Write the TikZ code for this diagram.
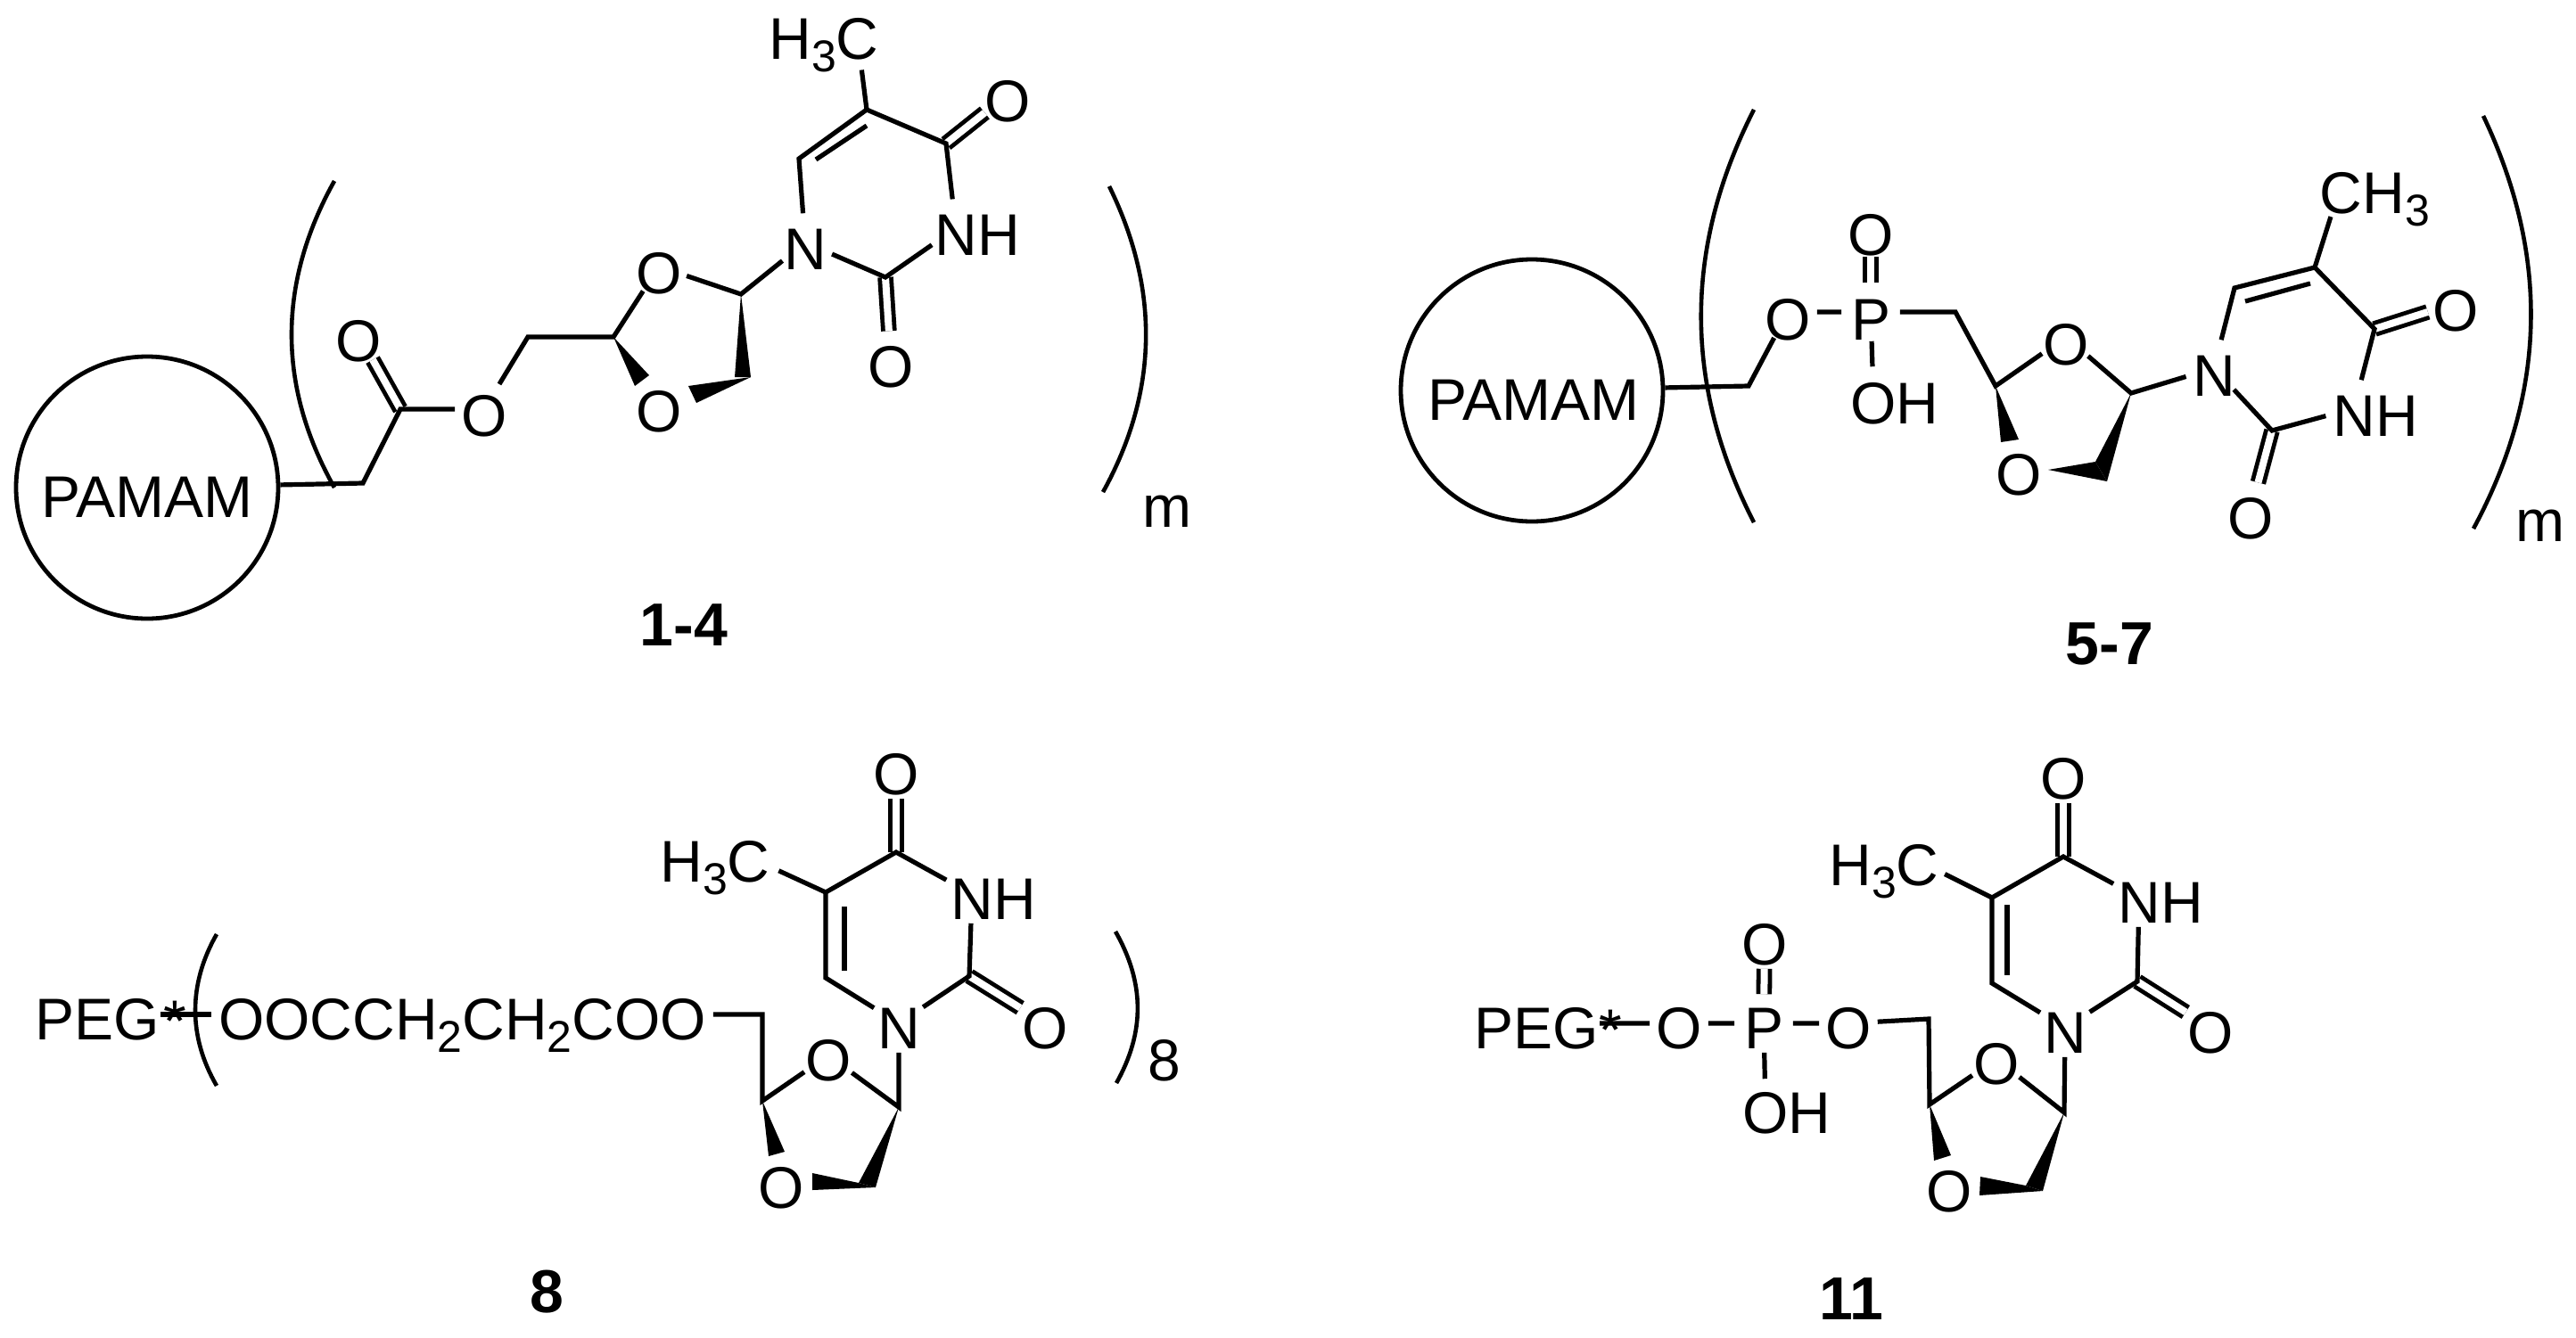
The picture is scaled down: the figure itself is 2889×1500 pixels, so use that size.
\documentclass[tikz,border=0pt]{standalone}
\usepackage{fontspec}
\setmainfont{Liberation Sans}
\newcommand\dr{7.5pt}
\newcommand\lbl[1]{\smash{\raisebox{-\dr}{#1}}}
\newcommand\sbs[1]{\raisebox{-3.5pt}{\fontsize{12.5}{12.5}\selectfont #1}}
\tikzset{
  bond/.style={line width=1.3pt,line join=miter},
  dbl/.style={double,double distance=2pt,line width=1.2pt},
  arc line/.style={line width=1.15pt},
  atom/.style={circle,inner sep=0pt,minimum size=16pt,font=\fontsize{16.5}{16.5}\selectfont},
  plain/.style={inner sep=0pt,font=\fontsize{16.5}{16.5}\selectfont},
  chain/.style={plain,outer sep=2pt},
  dend/.style={circle,draw,line width=1.2pt,minimum size=73.5pt,inner sep=0pt},
  cpd/.style={inner sep=0pt,font=\fontsize{17}{17}\selectfont\bfseries},
}
\begin{document}
\begin{tikzpicture}[x=0.25pt,y=-0.25pt]
\useasboundingbox (0,0) rectangle (2889,1500);
% ---------- 1-4
\renewcommand\dr{7.5pt}
\node[dend] (d1) at (165,547) {};
\node[plain] (d1t) at (165,558) {PAMAM};
\coordinate (a1) at (407,542);
\coordinate (a2) at (449,459);
\node[atom] (a3) at (402,375) {\lbl{O}};
\node[atom] (a4) at (543,459) {\lbl{O}};
\coordinate (a5) at (592,378);
\coordinate (a6) at (688,378);
\node[atom] (a7) at (739,299) {\lbl{O}};
\node[atom] (a8) at (739,454) {\lbl{O}};
\coordinate (a9) at (831,330);
\node[atom] (a11) at (903,272) {\lbl{N}};
\coordinate (a12) at (993,311);
\node[atom] (a13) at (999,404) {\lbl{O}};
\node[atom] (a14) at (1072,256) {\lbl{N}};
\node[plain] (a14h) at (1120,256) {\lbl{H}};
\coordinate (a15) at (1061,161);
\node[atom] (a16) at (1130,106) {\lbl{O}};
\coordinate (a17) at (972,123);
\coordinate (a18) at (896,178);
\coordinate (a17i) at (972,141);
\coordinate (a18i) at (915,179);
\node[atom,minimum size=21pt] (a19) at (961,36) {\lbl{C}};
\node[plain,anchor=base east] (a19h) at (939,66) {H\sbs{3}};
\draw[dbl] (a2) -- (a3);
\draw[dbl] (a12) -- (a13);
\draw[dbl] (a15) -- (a16);
\draw[bond] (d1) -- (a1) -- (a2) -- (a4) -- (a5) -- (a6) -- (a7) -- (a9) -- (a11) -- (a12) -- (a14) -- (a15) -- (a17) -- (a18) -- (a11);
\draw[bond] (a17) -- (a19);
\draw[bond] (a17i) -- (a18i);
\coordinate (a6w1) at (728,421); \coordinate (a6w2) at (712,433);
\fill (a6) -- (a6w1) -- (a6w2) -- cycle;
\coordinate (a9w1) at (824,423); \coordinate (a9w2) at (842,423);
\fill (a9) -- (a9w1) -- (a9w2) -- cycle;
\coordinate (a8w1) at (772,433); \coordinate (a8w2) at (781,452);
\fill (a9w2) -- (a8w1) -- (a8w2) -- cycle;
\coordinate (a20) at (375,203); \coordinate (a21) at (375,547);
\draw[arc line] (a20) .. controls (311,318) and (311,433) .. (a21);
\coordinate (a22) at (1244,209); \coordinate (a23) at (1237,552);
\draw[arc line] (a22) .. controls (1300,323) and (1300,438) .. (a23);
\node[plain] (m1) at (1309,574) {m};
\node[cpd] (l1) at (767,701) {1-4};
% ---------- 5-7
\renewcommand\dr{7.75pt}
\node[dend] (d2) at (1718,438) {};
\node[plain] (d2t) at (1720,449) {PAMAM};
\coordinate (b1) at (1961,433);
\node[atom] (b2) at (2005,350) {\lbl{O}};
\node[atom] (b3) at (2098,350) {\lbl{P}};
\node[atom] (b4) at (2098,255) {\lbl{O}};
\node[atom] (b5) at (2101,444) {\lbl{O}};
\node[plain] (b5h) at (2150,444) {\lbl{H}};
\coordinate (b6) at (2193,350);
\coordinate (b7) at (2238,433);
\node[atom] (b8) at (2317,378) {\lbl{O}};
\coordinate (b9) at (2390,441);
\node[atom] (b10) at (2483,413) {\lbl{N}};
\coordinate (b11) at (2548,483);
\node[atom] (b12) at (2640,458) {\lbl{N}};
\node[plain] (b12h) at (2688,458) {\lbl{H}};
\node[atom] (b13) at (2524,573) {\lbl{O}};
\coordinate (b14) at (2663,369);
\node[atom] (b15) at (2754,340) {\lbl{O}};
\coordinate (b16) at (2596,300);
\coordinate (b17) at (2506,323);
\coordinate (b16i) at (2591,318);
\coordinate (b17i) at (2518,338);
\node[atom,minimum size=18pt] (b18) at (2625,208) {\lbl{C}};
\node[plain,anchor=base west] (b18h) at (2649,239) {H\sbs{3}};
\draw[dbl] (b3) -- (b4);
\draw[dbl] (b11) -- (b13);
\draw[dbl] (b14) -- (b15);
\draw[bond] (d2) -- (b1) -- (b2) -- (b3) -- (b6) -- (b7) -- (b8) -- (b9) -- (b10) -- (b11) -- (b12) -- (b14) -- (b16) -- (b17) -- (b10);
\draw[bond] (b3) -- (b5);
\draw[bond] (b16) -- (b18);
\draw[bond] (b16i) -- (b17i);
\coordinate (b7w1) at (2244,496); \coordinate (b7w2) at (2264,493);
\fill (b7) -- (b7w1) -- (b7w2) -- cycle;
\coordinate (b9w1) at (2350,518); \coordinate (b9w2) at (2363,540);
\fill (b9) -- (b9w1) -- (b9w2) -- cycle;
\coordinate (b19) at (2297,527);
\fill (b19) -- (b9w1) -- (b9w2) -- cycle;
\node[plain] (b20) at (2264,533) {O};
\coordinate (b21) at (1967,123); \coordinate (b22) at (1967,586);
\draw[arc line] (b21) .. controls (1888,278) and (1888,432) .. (b22);
\coordinate (b23) at (2785,130); \coordinate (b24) at (2774,593);
\draw[arc line] (b23) .. controls (2858,284) and (2858,437) .. (b24);
\node[plain] (m2) at (2849,590) {m};
\node[cpd] (l2) at (2366,722) {5-7};
% ---------- 8
\renewcommand\dr{7pt}
\node[plain,anchor=west] (p1) at (39,1138) {\lbl{PEG}};
\node[plain] (p1s) at (196,1146) {*};
\node[chain,anchor=west] (c0) at (237,1138) {\lbl{OOCCH\sbs{2}CH\sbs{2}COO}};
\draw[bond] (p1) -- (c0);
\coordinate (c1) at (855,1138);
\coordinate (c2) at (855,1235);
\node[atom] (c3) at (929,1184) {\lbl{O}};
\coordinate (c4) at (1008,1242);
\node[atom] (c5) at (1008,1148) {\lbl{N}};
\coordinate (c6) at (1087,1095);
\node[atom] (c7) at (1172,1148) {\lbl{O}};
\node[atom] (c8) at (1090,1003) {\lbl{N}};
\node[plain] (c8h) at (1138,1003) {\lbl{H}};
\coordinate (c9) at (1005,956);
\node[atom] (c10) at (1005,863) {\lbl{O}};
\coordinate (c11) at (926,1001);
\coordinate (c12) at (926,1097);
\coordinate (c11i) at (947,1017);
\coordinate (c12i) at (947,1089);
\node[atom,minimum size=18.5pt] (c13) at (839,961) {\lbl{C}};
\node[plain,anchor=base east] (c13h) at (817,989) {H\sbs{3}};
\draw[dbl] (c6) -- (c7);
\draw[dbl] (c9) -- (c10);
\draw[bond] (c0) -- (c1) -- (c2) -- (c3) -- (c4) -- (c5) -- (c6) -- (c8) -- (c9) -- (c11) -- (c12) -- (c5);
\draw[bond] (c11) -- (c13);
\draw[bond] (c11i) -- (c12i);
\coordinate (c2w1) at (862,1297); \coordinate (c2w2) at (880,1292);
\fill (c2) -- (c2w1) -- (c2w2) -- cycle;
\coordinate (c4w1) at (963,1327); \coordinate (c4w2) at (982,1332);
\fill (c4) -- (c4w1) -- (c4w2) -- cycle;
\coordinate (c14) at (911,1316); \coordinate (c15) at (911,1335);
\fill (c14) -- (c4w1) -- (c4w2) -- (c15) -- cycle;
\node[plain] (c16) at (876,1333) {O};
\coordinate (c17) at (243,1048); \coordinate (c18) at (243,1218);
\draw[arc line] (c17) .. controls (211,1104) and (211,1163) .. (c18);
\coordinate (c19) at (1251,1045); \coordinate (c20) at (1252,1215);
\draw[arc line] (c19) .. controls (1284,1103) and (1284,1158) .. (c20);
\node[plain] (n8) at (1306,1190) {8};
\node[cpd] (l3) at (613,1449) {8};
% ---------- 11
\node[plain,anchor=west] (p2) at (1653,1148) {\lbl{PEG}};
\node[plain] (p2s) at (1806,1156) {*};
\node[atom] (e1) at (1883,1148) {\lbl{O}};
\node[atom] (e2) at (1978,1148) {\lbl{P}};
\node[atom] (e3) at (2073,1148) {\lbl{O}};
\node[atom] (e4) at (1979,1054) {\lbl{O}};
\node[atom] (e5) at (1980,1243) {\lbl{O}};
\node[plain] (e5h) at (2029,1243) {\lbl{H}};
\coordinate (e6) at (2163,1143);
\coordinate (e7) at (2164,1239);
\node[atom] (e8) at (2239,1188) {\lbl{O}};
\coordinate (e9) at (2315,1248);
\node[atom] (e10) at (2316,1153) {\lbl{N}};
\coordinate (e11) at (2397,1101);
\node[atom] (e12) at (2479,1153) {\lbl{O}};
\node[atom] (e13) at (2399,1007) {\lbl{N}};
\node[plain] (e13h) at (2447,1007) {\lbl{H}};
\coordinate (e14) at (2314,961);
\node[atom] (e15) at (2314,868) {\lbl{O}};
\coordinate (e16) at (2234,1007);
\coordinate (e17) at (2234,1103);
\coordinate (e16i) at (2251,1015);
\coordinate (e17i) at (2251,1094);
\node[atom,minimum size=17pt] (e18) at (2150,965) {\lbl{C}};
\node[plain,anchor=base east] (e18h) at (2128,993) {H\sbs{3}};
\draw[dbl] (e2) -- (e4);
\draw[dbl] (e11) -- (e12);
\draw[dbl] (e14) -- (e15);
\draw[bond] (p2) -- (e1) -- (e2) -- (e3) -- (e6) -- (e7) -- (e8) -- (e9) -- (e10) -- (e11) -- (e13) -- (e14) -- (e16) -- (e17) -- (e10);
\draw[bond] (e2) -- (e5);
\draw[bond] (e16) -- (e18);
\draw[bond] (e16i) -- (e17i);
\coordinate (e7w1) at (2169,1302); \coordinate (e7w2) at (2188,1296);
\fill (e7) -- (e7w1) -- (e7w2) -- cycle;
\coordinate (e9w1) at (2272,1330); \coordinate (e9w2) at (2291,1336);
\fill (e9) -- (e9w1) -- (e9w2) -- cycle;
\coordinate (e19) at (2221,1320); \coordinate (e20) at (2220,1341);
\fill (e19) -- (e9w1) -- (e9w2) -- (e20) -- cycle;
\node[plain] (e21) at (2186,1337) {O};
\node[cpd] (l4) at (2076,1457) {11};
\end{tikzpicture}
\end{document}
